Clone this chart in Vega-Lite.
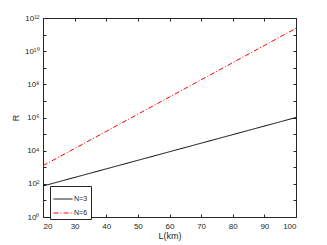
{
  "$schema": "https://vega.github.io/schema/vega-lite/v6.json",
  "width": 253,
  "height": 199,
  "autosize": "none",
  "padding": {"left": 43, "top": 18, "right": 31, "bottom": 28},
  "config": {
    "font": "Liberation Sans",
    "view": {"stroke": "#262626", "strokeWidth": 1},
    "axis": {"grid": false, "domain": false, "tickColor": "#262626", "labelColor": "#262626", "titleColor": "#262626", "labelFontSize": 8, "titleFontSize": 9, "titleFontWeight": "normal"}
  },
  "data": {"values": [
    {"L": 20, "R": 74, "N": "N=3"},
    {"L": 100, "R": 1000000, "N": "N=3"},
    {"L": 20, "R": 1240, "N": "N=6"},
    {"L": 100, "R": 240000000000, "N": "N=6"}
  ]},
  "encoding": {
    "x": {"field": "L", "type": "quantitative", "scale": {"domain": [20, 100], "nice": false, "zero": false}},
    "y": {"field": "R", "type": "quantitative", "scale": {"type": "log", "domain": [1, 1000000000000], "nice": false}}
  },
  "layer": [
    {
      "mark": {"type": "line", "strokeWidth": 1, "clip": true},
      "encoding": {
        "x": {"field": "L", "type": "quantitative", "title": "L(km)", "axis": {"orient": "bottom", "values": [20,30,40,50,60,70,80,90,100], "tickSize": -3, "labelPadding": 8, "titlePadding": 1}},
        "y": {"field": "R", "type": "quantitative", "title": "R", "axis": {"orient": "left", "values": [1,100,10000,1000000,100000000,10000000000,1000000000000], "tickSize": -3, "labelPadding": 7, "titlePadding": 4, "labelExpr": "'10' + ['⁰','¹','²','³','⁴','⁵','⁶','⁷','⁸','⁹','¹⁰','¹¹','¹²'][round(log(datum.value)/LN10)]"}},
        "color": {"field": "N", "type": "nominal", "scale": {"domain": ["N=3", "N=6"], "range": ["#000000", "#ff0000"]},
          "legend": {"title": null, "orient": "none", "legendX": 7, "legendY": 168, "symbolType": "stroke", "symbolSize": 360, "symbolStrokeWidth": 1, "labelFontSize": 7, "labelColor": "#262626", "strokeColor": "#262626", "fillColor": "white", "padding": 3, "rowPadding": 1, "labelOffset": 1, "symbolDashOffset": 0}},
        "strokeDash": {"field": "N", "type": "nominal", "scale": {"domain": ["N=3", "N=6"], "range": [[1, 0], [5, 2, 1, 2]]}, "legend": null}
      }
    },
    {
      "mark": {"type": "point", "opacity": 0},
      "encoding": {
        "x": {"field": "L", "type": "quantitative", "axis": {"orient": "top", "values": [20,30,40,50,60,70,80,90,100], "tickSize": -3, "labels": false, "title": null}},
        "y": {"field": "R", "type": "quantitative", "axis": {"orient": "right", "values": [1,100,10000,1000000,100000000,10000000000,1000000000000], "tickSize": -3, "labels": false, "title": null}}
      }
    },
    {
      "mark": {"type": "point", "opacity": 0},
      "encoding": {
        "x": {"field": "L", "type": "quantitative", "axis": null},
        "y": {"field": "R", "type": "quantitative", "axis": {"orient": "left", "values": [10,1000,100000,10000000,1000000000,100000000000], "tickSize": -3, "labels": false, "title": null}}
      }
    },
    {
      "mark": {"type": "point", "opacity": 0},
      "encoding": {
        "x": {"field": "L", "type": "quantitative", "axis": null},
        "y": {"field": "R", "type": "quantitative", "axis": {"orient": "right", "values": [10,1000,100000,10000000,1000000000,100000000000], "tickSize": -3, "labels": false, "title": null}}
      }
    }
  ],
  "resolve": {"axis": {"x": "independent", "y": "independent"}}
}
